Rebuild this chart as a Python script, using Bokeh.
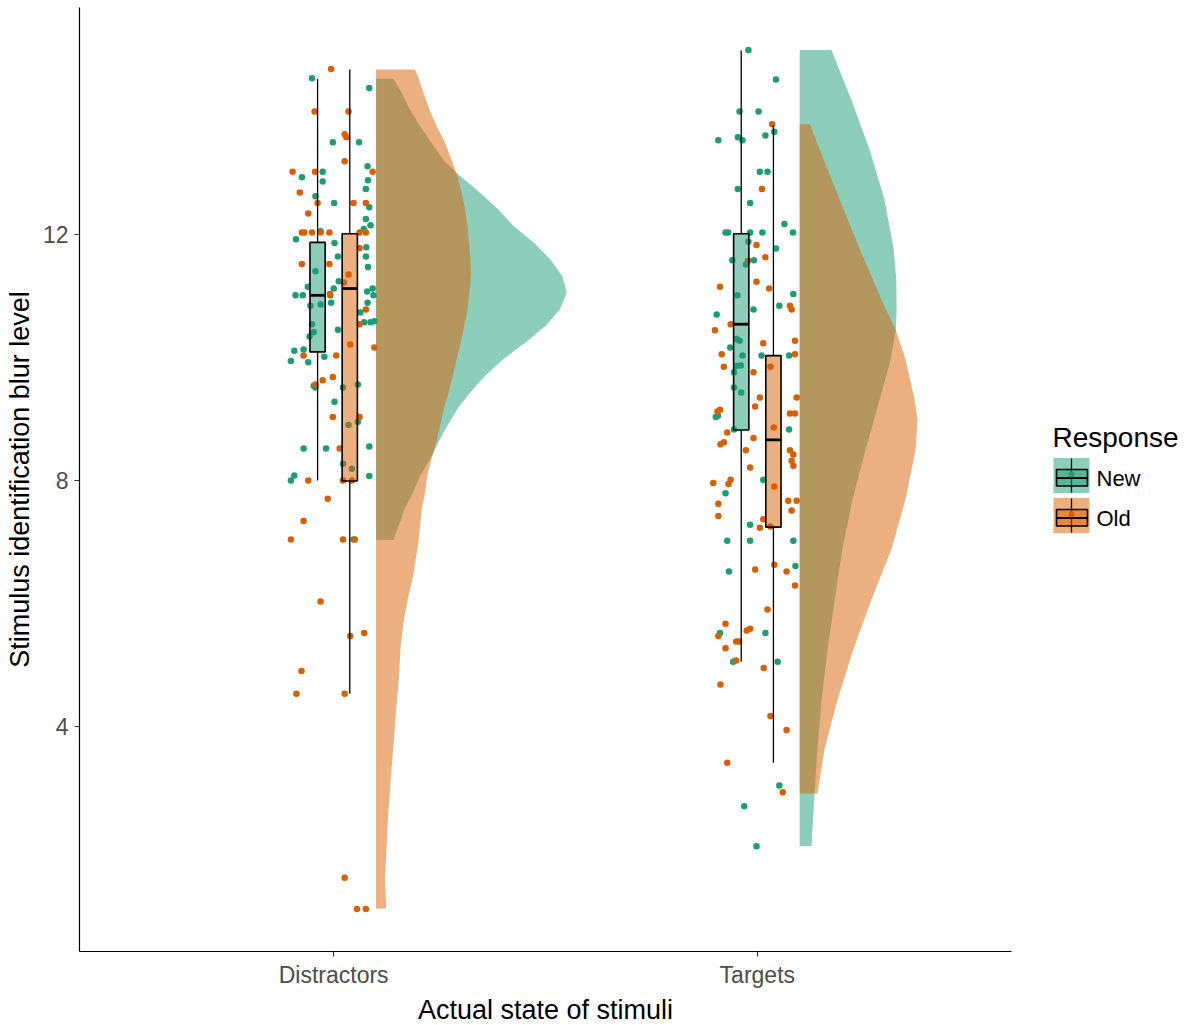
from bokeh.plotting import figure
from bokeh.layouts import row
from bokeh.models import Range1d, FixedTicker
from bokeh.core.properties import value
from bokeh.embed import file_html
from bokeh.resources import INLINE

# ---------------- data ----------------
categories = ["Distractors", "Targets"]
responses = ["New", "Old"]
colors = {"New": "#1B9E77", "Old": "#D95F02"}
y_ticks = [4, 8, 12]

# jittered raw points (offset from category centre, blur level)
dn_dx = [-0.051, 0.084, -0.002, 0.060, 0.080, -0.075, -0.026, -0.026, 0.081, 0.076, -0.043, 0.001, 0.084, 0.076,
         0.087, 0.071, -0.089, -0.031, 0.002, 0.077, 0.010, 0.076, 0.081, -0.043, -0.090, -0.073, 0.012, 0.000,
         0.079, 0.092, 0.094, -0.008, -0.061, -0.055, -0.031, -0.006, 0.080, 0.063, 0.072, 0.087, 0.096, -0.051,
         -0.047, 0.010, -0.057, -0.093, -0.071, -0.101, -0.060, -0.022, -0.047, -0.043, 0.022, 0.057, 0.002, 0.035,
         0.057, -0.071, -0.018, 0.084, 0.022, 0.043, -0.101, -0.093, 0.084, 0.047]
dn_y = [14.54, 14.38, 13.50, 13.50, 13.11, 12.93, 13.02, 12.86, 12.88, 12.74, 12.62, 12.51, 12.44, 12.25, 12.15,
        12.09, 11.92, 12.05, 11.86, 11.79, 11.64, 11.64, 11.47, 11.40, 11.01, 11.01, 11.24, 11.12, 11.07, 11.12,
        11.01, 11.01, 11.15, 10.84, 10.86, 10.89, 10.89, 10.73, 10.57, 10.57, 10.59, 10.54, 10.41, 10.45, 10.34,
        10.11, 10.13, 9.94, 9.92, 10.01, 9.54, 9.51, 9.51, 9.56, 9.28, 8.90, 8.95, 8.52, 8.52, 8.55, 8.27, 8.19,
        8.00, 8.08, 8.07, 7.04]

do_dx = [-0.006, -0.045, 0.035, 0.026, 0.030, 0.026, -0.097, -0.044, 0.092, -0.080, 0.047, 0.076, -0.038, -0.060,
         -0.075, -0.069, -0.051, -0.031, -0.010, 0.061, 0.076, 0.061, -0.075, -0.010, 0.035, 0.024, -0.009, 0.076,
         0.061, 0.039, 0.096, -0.071, 0.006, -0.043, -0.026, -0.002, -0.002, 0.061, 0.014, -0.060, 0.022, 0.043,
         -0.014, -0.071, -0.101, 0.022, 0.050, -0.031, 0.039, 0.072, -0.076, -0.088, 0.026, 0.026, 0.055, 0.076]
do_y = [14.69, 14.0, 14.0, 13.63, 13.58, 13.19, 13.02, 13.02, 13.02, 12.68, 12.51, 12.51, 12.51, 12.34, 12.03, 12.03,
        12.03, 12.03, 12.03, 12.03, 12.03, 11.78, 11.52, 11.52, 11.35, 11.22, 11.03, 10.78, 10.54, 10.21, 10.16,
        10.03, 10.03, 9.56, 9.63, 9.68, 9.03, 9.03, 8.52, 8.0, 8.0, 8.0, 7.70, 7.34, 7.04, 7.04, 7.04, 6.03, 5.47,
        5.52, 4.90, 4.53, 4.53, 1.54, 1.03, 1.03]

tn_dx = [-0.021, 0.044, -0.042, 0.003, -0.092, -0.046, -0.035, 0.019, 0.040, 0.006, 0.024, -0.046, -0.017, 0.064,
         -0.075, -0.069, -0.017, 0.012, 0.084, -0.021, 0.044, -0.059, -0.008, -0.027, 0.085, -0.047, 0.052, -0.096,
         -0.009, -0.049, -0.042, -0.064, -0.035, 0.010, 0.075, -0.050, -0.039, -0.055, -0.055, -0.038, -0.098,
         -0.093, -0.055, 0.075, 0.014, -0.075, -0.017, -0.071, -0.017, 0.085, -0.067, 0.090, -0.088, 0.019, -0.057,
         0.048, 0.052, -0.031, -0.002]
tn_y = [15.0, 14.52, 14.0, 14.0, 13.53, 13.58, 13.53, 13.61, 13.67, 13.02, 13.02, 12.74, 12.51, 12.17, 12.03, 12.03,
        12.03, 12.03, 12.03, 11.88, 11.77, 11.58, 11.58, 11.51, 11.03, 11.01, 10.84, 10.70, 10.78, 10.30, 10.27,
        10.16, 10.03, 10.03, 10.03, 9.86, 9.87, 9.76, 9.51, 9.43, 9.03, 9.05, 8.83, 8.83, 8.01, 7.79, 7.28, 7.02,
        7.02, 7.02, 6.52, 6.61, 5.52, 5.52, 5.05, 5.05, 3.04, 2.70, 2.05]

to_dx = [0.035, 0.011, -0.002, 0.019, -0.022, -0.088, -0.002, 0.028, 0.077, 0.081, -0.100, -0.063, 0.089, 0.014,
         -0.084, 0.089, -0.079, 0.031, -0.009, 0.093, 0.006, -0.005, -0.094, -0.088, 0.077, 0.089, 0.039, -0.071,
         -0.009, -0.087, -0.079, -0.027, 0.077, 0.085, 0.085, 0.081, -0.017, -0.104, -0.068, -0.063, 0.040, -0.092,
         0.073, 0.093, 0.081, -0.092, 0.014, 0.006, 0.031, -0.005, 0.040, 0.069, 0.089, 0.024, -0.075, -0.092,
         -0.025, -0.017, -0.050, -0.043, -0.075, -0.050, 0.015, -0.087, 0.031, 0.069, -0.071, 0.060]
to_y = [13.79, 12.74, 11.83, 11.63, 11.57, 11.15, 11.23, 11.12, 10.84, 10.78, 10.44, 10.54, 10.27, 10.23, 10.05,
        10.05, 9.85, 9.85, 9.76, 9.35, 9.35, 9.20, 9.12, 9.15, 9.09, 9.09, 8.86, 8.78, 8.69, 8.59, 8.62, 8.49, 8.49,
        8.42, 8.24, 8.32, 8.21, 7.96, 7.94, 8.01, 7.90, 7.62, 7.67, 7.67, 7.51, 7.42, 7.37, 7.23, 7.25, 6.55, 6.63,
        6.52, 6.29, 5.90, 5.67, 5.47, 5.56, 5.59, 5.38, 5.38, 5.27, 5.07, 4.95, 4.68, 4.17, 3.94, 3.41, 2.93]

# boxplot statistics, order: (Distractors,New) (Distractors,Old) (Targets,New) (Targets,Old)
box_cat = ["Distractors", "Distractors", "Targets", "Targets"]
box_resp = ["New", "Old", "New", "Old"]
box_lower = [8.00, 4.53, 5.05, 3.41]
box_q1 = [10.09, 7.99, 8.82, 7.24]
box_med = [11.01, 11.12, 10.54, 8.66]
box_q3 = [11.87, 12.01, 12.01, 10.03]
box_upper = [14.53, 14.68, 14.99, 13.77]

# half-violin density profiles (blur level, density width in x units)
dv_new_y = [7.03, 7.26, 7.54, 7.81, 8.08, 8.35, 8.62, 8.89, 9.16, 9.43, 9.70, 9.97, 10.24, 10.51, 10.78, 11.05,
            11.32, 11.59, 11.87, 12.13, 12.41, 12.68, 13.00, 13.22, 13.49, 13.76, 14.03, 14.30, 14.53]
dv_new_w = [0.041, 0.053, 0.068, 0.088, 0.104, 0.128, 0.147, 0.168, 0.192, 0.222, 0.257, 0.300, 0.352, 0.400,
            0.434, 0.450, 0.440, 0.412, 0.372, 0.326, 0.288, 0.245, 0.190, 0.158, 0.131, 0.104, 0.080, 0.061, 0.041]
dv_old_y = [1.04, 1.53, 2.07, 2.61, 3.15, 3.69, 4.24, 4.78, 5.30, 5.75, 6.10, 6.46, 6.73, 7.00, 7.26, 7.54, 7.81,
            8.08, 8.35, 8.62, 8.89, 9.16, 9.43, 9.70, 9.97, 10.24, 10.51, 10.78, 11.05, 11.32, 11.59, 12.13, 12.41,
            12.68, 12.95, 13.22, 13.49, 13.76, 14.03, 14.30, 14.55, 14.68]
dv_old_w = [0.024, 0.021, 0.025, 0.029, 0.035, 0.041, 0.047, 0.054, 0.058, 0.066, 0.076, 0.088, 0.094, 0.100,
            0.104, 0.108, 0.116, 0.121, 0.131, 0.142, 0.151, 0.160, 0.171, 0.181, 0.190, 0.200, 0.208, 0.216,
            0.220, 0.224, 0.223, 0.216, 0.210, 0.202, 0.192, 0.178, 0.163, 0.143, 0.126, 0.112, 0.100, 0.092]
tv_new_y = [2.05, 2.91, 3.64, 4.45, 5.26, 6.07, 6.89, 7.70, 8.51, 9.32, 9.97, 10.46, 10.78, 11.27, 11.76, 12.57,
            13.38, 14.19, 14.60, 15.00]
tv_new_w = [0.028, 0.035, 0.042, 0.052, 0.066, 0.083, 0.101, 0.125, 0.156, 0.189, 0.215, 0.227, 0.229, 0.228,
            0.222, 0.200, 0.165, 0.122, 0.098, 0.075]
tv_old_y = [2.91, 3.64, 4.45, 5.26, 6.07, 6.89, 7.70, 8.51, 9.00, 9.32, 9.97, 10.46, 10.94, 11.76, 12.57, 13.38,
            13.79]
tv_old_w = [0.042, 0.059, 0.090, 0.127, 0.170, 0.217, 0.250, 0.274, 0.278, 0.271, 0.250, 0.226, 0.193, 0.142,
            0.094, 0.047, 0.024]

# ---------------- layout constants ----------------
FONT = "Liberation Sans"
cat_pos = {c: i + 1 for i, c in enumerate(categories)}
BOX_OFF = {"New": -0.038, "Old": 0.038}
BOX_W = 0.036
VIOLIN_OFF = 0.10
FRAME_H = 944
TOP = 7

p = figure(frame_width=932, frame_height=FRAME_H, x_range=Range1d(0.4, 2.6), y_range=Range1d(0.34, 15.69),
           output_backend="svg", toolbar_location=None,
           min_border_left=79, min_border_right=20, min_border_top=TOP, min_border_bottom=60)
p.outline_line_color = None
p.xgrid.grid_line_color = None
p.ygrid.grid_line_color = None
p.background_fill_color = "white"
p.border_fill_color = "white"

# violins: New first, Old drawn on top
violins = [
    ("Distractors", "New", dv_new_y, dv_new_w),
    ("Distractors", "Old", dv_old_y, dv_old_w),
    ("Targets", "New", tv_new_y, tv_new_w),
    ("Targets", "Old", tv_old_y, tv_old_w),
]
for cat, resp, vy, vw in violins:
    x0 = cat_pos[cat] + VIOLIN_OFF
    xs = [x0, x0] + [x0 + w for w in reversed(vw)]
    ys = [vy[0], vy[-1]] + list(reversed(vy))
    p.patch(xs, ys, fill_color=colors[resp], fill_alpha=0.5, line_color=None)

# points
point_sets = [
    ("Distractors", "New", dn_dx, dn_y),
    ("Targets", "New", tn_dx, tn_y),
    ("Distractors", "Old", do_dx, do_y),
    ("Targets", "Old", to_dx, to_y),
]
for cat, resp, dx, yy in point_sets:
    pairs = list(zip(dx, yy))
    p.scatter([cat_pos[cat] + d for d, _ in pairs], [v for _, v in pairs], size=6.5,
              fill_color=colors[resp], line_color=None)

# boxplots
for cat, resp, lo, q1, med, q3, hi in zip(box_cat, box_resp, box_lower, box_q1, box_med, box_q3, box_upper):
    xc = cat_pos[cat] + BOX_OFF[resp]
    p.segment([xc, xc], [lo, q3], [xc, xc], [q1, hi], line_color="black", line_width=1.3)
    p.quad(left=[xc - BOX_W / 2], right=[xc + BOX_W / 2], bottom=[q1], top=[q3],
           fill_color=colors[resp], fill_alpha=0.5, line_color="black", line_width=1.6)
    p.segment([xc - BOX_W / 2], [med], [xc + BOX_W / 2], [med], line_color="black", line_width=2.8)

# axes
p.xaxis.ticker = FixedTicker(ticks=[cat_pos[c] for c in categories])
p.xaxis.major_label_overrides = {cat_pos[c]: c for c in categories}
p.yaxis.ticker = FixedTicker(ticks=y_ticks)
p.xaxis.axis_label = "Actual state of stimuli"
p.yaxis.axis_label = "Stimulus identification blur level"
for ax in (p.xaxis[0], p.yaxis[0]):
    ax.axis_line_color = "black"
    ax.axis_line_width = 1.2
    ax.major_tick_line_color = "#333333"
    ax.major_tick_line_width = 1.1
    ax.major_tick_in = 0
    ax.major_tick_out = 5
    ax.minor_tick_line_color = None
    ax.major_label_text_font = FONT
    ax.major_label_text_font_size = "23px"
    ax.major_label_text_color = "#4D4D4D"
    ax.axis_label_text_font = FONT
    ax.axis_label_text_font_size = "27px"
    ax.axis_label_text_font_style = "normal"
    ax.axis_label_text_color = "black"
p.xaxis.major_label_standoff = 5
p.xaxis.axis_label_standoff = 4
p.yaxis.major_label_standoff = 6
p.yaxis.axis_label_standoff = 5

# ---------------- legend (separate panel, y = pixels below frame top) ----------------
lg = figure(width=148, frame_height=FRAME_H, x_range=Range1d(0, 148), y_range=Range1d(FRAME_H, 0),
            output_backend="svg", toolbar_location=None,
            min_border_left=0, min_border_right=0, min_border_top=TOP, min_border_bottom=60,
            x_axis_location=None, y_axis_location=None)
lg.outline_line_color = None
lg.xgrid.grid_line_color = None
lg.ygrid.grid_line_color = None
lg.background_fill_color = "white"
lg.border_fill_color = "white"

lg.text(x=[21], y=[430], text=["Response"], text_font=value(FONT), text_font_size="28px",
        text_baseline="middle", text_align="left", text_color="black")
for i, resp in enumerate(responses):
    yc = 468 + 40 * i
    col = colors[resp]
    lg.rect(x=[40], y=[yc], width=36, height=35, fill_color=col, fill_alpha=0.5, line_color=None)
    lg.segment([40], [yc - 17], [40], [yc + 17], line_color="black", line_width=1.3)
    lg.quad(left=[25], right=[56], bottom=[yc - 6], top=[yc + 10.5], fill_color=col, fill_alpha=0.5,
            line_color="black", line_width=1.6)
    lg.segment([25], [yc + 2.5], [56], [yc + 2.5], line_color="black", line_width=1.8)
    lg.scatter([40], [yc - 1], size=6, fill_color=col, line_color=None)
    lg.text(x=[65], y=[yc + 3], text=[resp], text_font=value(FONT), text_font_size="22px",
            text_baseline="middle", text_align="left", text_color="black")

layout = row(p, lg)
open("out.html", "w").write(file_html(layout, INLINE))
